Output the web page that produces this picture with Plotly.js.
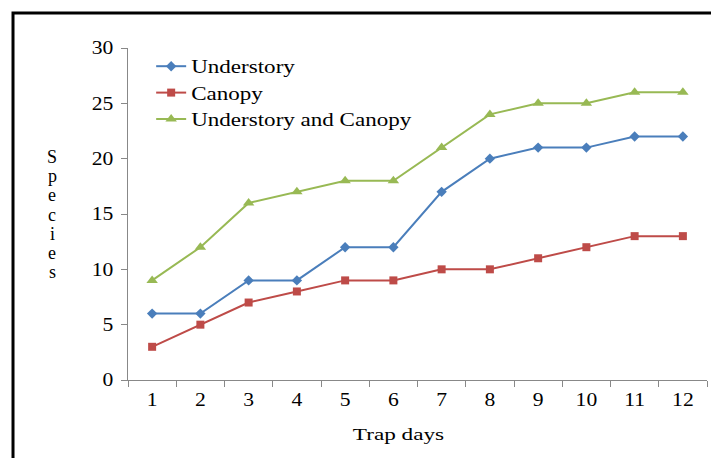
<!DOCTYPE html>
<html>
<head>
<meta charset="utf-8">
<script src="https://cdn.plot.ly/plotly-3.0.1.min.js"></script>
<style>
html,body{margin:0;padding:0;background:#fff;}
#chart{width:711px;height:458px;}
</style>
</head>
<body>
<div id="chart"></div>
<script>
const trapDays = ["1","2","3","4","5","6","7","8","9","10","11","12"];
const understory = [6,6,9,9,12,12,17,20,21,21,22,22];
const canopy = [3,5,7,8,9,9,10,10,11,12,13,13];
const understoryAndCanopy = [9,12,16,17,18,18,21,24,25,25,26,26];
const seriesNames = ["Understory","Canopy","Understory and Canopy"];
const yTitle = "Species";
const xTitle = "Trap days";

const font = "Liberation Serif, Times New Roman, serif";

const traces = [
  {x: trapDays, y: understory, name: seriesNames[0], mode: "lines+markers",
   line: {color: "#4a7ebb", width: 2}, marker: {symbol: "diamond", size: 8, color: "#4a7ebb"}},
  {x: trapDays, y: canopy, name: seriesNames[1], mode: "lines+markers",
   line: {color: "#be4b48", width: 2}, marker: {symbol: "square", size: 8, color: "#be4b48"}},
  {x: trapDays, y: understoryAndCanopy, name: seriesNames[2], mode: "lines+markers",
   line: {color: "#98b954", width: 2}, marker: {symbol: "triangle-up", size: 10, color: "#98b954"}}
];

// y-title letters stacked vertically, one annotation per letter
const letterAnns = yTitle.split("").map((ch, i) => ({
  text: ch, xref: "paper", yref: "paper", x: -0.131,
  y: (380 - (157 + i * 19.2)) / 332,
  xanchor: "center", yanchor: "middle", showarrow: false,
  font: {family: font, size: 18, color: "#000"}
}));

const layout = {
  width: 711, height: 458,
  margin: {l: 128, r: 4, t: 48, b: 78},
  paper_bgcolor: "#fff", plot_bgcolor: "#fff",
  font: {family: font, color: "#000", size: 16},
  showlegend: true,
  legend: {x: 0.04, y: 1.0, xanchor: "left", yanchor: "top", bgcolor: "rgba(0,0,0,0)",
           font: {family: font, size: 18, color: "#000"}, tracegroupgap: 0},
  xaxis: {type: "category", tickson: "boundaries", ticks: "outside", ticklen: 6, tickcolor: "#888",
          showline: true, linecolor: "#888", linewidth: 1, showgrid: false, zeroline: false,
          tickfont: {family: font, size: 18}, range: [-0.5, 11.5], ticklabelstandoff: 3},
  yaxis: {range: [0, 30], dtick: 5, tick0: 0, ticks: "outside", ticklen: 6, tickcolor: "#888",
          showline: true, linecolor: "#888", linewidth: 1, showgrid: false, zeroline: false,
          tickfont: {family: font, size: 18}, ticklabelstandoff: 4},
  shapes: [
    {type: "rect", xref: "paper", yref: "paper", x0: -0.1986, x1: 1.2, y0: -0.6, y1: 1.1054,
     line: {color: "#000", width: 3}, fillcolor: "rgba(0,0,0,0)"}
  ],
  annotations: letterAnns.concat([
    {text: xTitle, xref: "paper", yref: "paper", x: 0.468, y: -0.1657,
     xanchor: "center", yanchor: "middle", showarrow: false,
     font: {family: font, size: 16, color: "#000"}}
  ])
};

function stretch(el, f) {
  const w = el.getComputedTextLength();
  if (w > 0) {
    el.setAttribute("textLength", (w * f).toFixed(2));
    el.setAttribute("lengthAdjust", "spacingAndGlyphs");
  }
}

Plotly.newPlot("chart", traces, layout, {displayModeBar: false, staticPlot: true}).then(() => {
  const root = document.getElementById("chart");
  root.querySelectorAll(".legendtext").forEach(t => stretch(t, 1.28));
  root.querySelectorAll(".xtick text, .ytick text").forEach(t => stretch(t, 1.2));
  const anns = root.querySelectorAll(".annotation-text");
  stretch(anns[anns.length - 1], 1.45);
  // let widened legend text show fully
  root.querySelectorAll(".legend [clip-path]").forEach(e => e.removeAttribute("clip-path"));
  const leg = root.querySelector(".legend");
  if (leg && leg.hasAttribute("clip-path")) leg.removeAttribute("clip-path");
});
</script>
</body>
</html>
